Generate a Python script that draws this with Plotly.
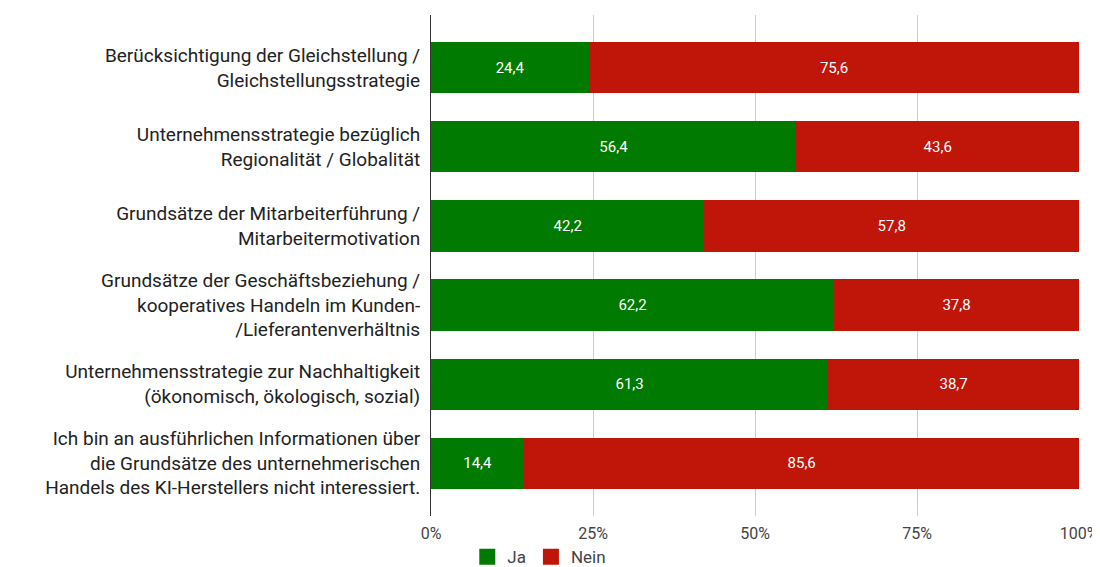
import plotly.graph_objects as go

categories = [
    "Berücksichtigung der Gleichstellung /<br>Gleichstellungsstrategie",
    "Unternehmensstrategie bezüglich<br>Regionalität / Globalität",
    "Grundsätze der Mitarbeiterführung /<br>Mitarbeitermotivation",
    "Grundsätze der Geschäftsbeziehung /<br>kooperatives Handeln im Kunden-<br>/Lieferantenverhältnis",
    "Unternehmensstrategie zur Nachhaltigkeit<br>(ökonomisch, ökologisch, sozial)",
    "Ich bin an ausführlichen Informationen über<br>die Grundsätze des unternehmerischen<br>Handels des KI-Herstellers nicht interessiert.",
]
ja = [24.4, 56.4, 42.2, 62.2, 61.3, 14.4]
nein = [75.6, 43.6, 57.8, 37.8, 38.7, 85.6]
tick_vals = [0, 25, 50, 75, 100]
tick_text = ["0%", "25%", "50%", "75%", "100%"]
series_names = ["Ja", "Nein"]
series_colors = ["#007a00", "#c0160a"]

def fmt(v):
    return f"{v:.1f}".replace(".", ",")

fig = go.Figure()
for name, vals, col in zip(series_names, [ja, nein], series_colors):
    fig.add_trace(go.Bar(
        y=categories, x=vals, name=name, orientation="h",
        marker=dict(color=col, line=dict(width=0)),
        text=[fmt(v) for v in vals], textposition="inside", insidetextanchor="middle",
        textfont=dict(color="white", size=15, family="Roboto"),
        showlegend=False, hoverinfo="skip",
    ))
# legend entries with larger square symbols
for name, col in zip(series_names, series_colors):
    fig.add_trace(go.Scatter(
        x=[None], y=[None], mode="markers", name=name,
        marker=dict(symbol="square", size=16, color=col),
        showlegend=True,
    ))

fig.update_layout(
    barmode="stack",
    bargap=0.354,
    width=1092, height=559,
    margin=dict(l=423, r=21, t=7, b=51, autoexpand=False),
    paper_bgcolor="white", plot_bgcolor="white",
    font=dict(family="Roboto", color="#222222"),
    uniformtext=dict(mode="show", minsize=15),
    legend=dict(
        orientation="h", x=0.056, xanchor="left", y=-0.082, yanchor="middle",
        font=dict(size=17, color="#444444"), itemwidth=30,
        traceorder="normal", bgcolor="rgba(0,0,0,0)",
    ),
    xaxis=dict(
        range=[0, 100], tickvals=tick_vals, ticktext=tick_text,
        showgrid=True, gridcolor="#cccccc", gridwidth=1,
        zeroline=False, showline=False, automargin=False,
        tickfont=dict(size=16, color="#444444"),
        ticks="", ticklabelstandoff=6,
    ),
    yaxis=dict(
        autorange=False, range=[5.67, -0.67], automargin=False,
        tickfont=dict(size=19, color="#222222"),
        showgrid=False, zeroline=False,
        showline=True, linecolor="#333333", linewidth=1,
        ticks="", ticklabelstandoff=6,
    ),
)

fig.write_html("out.html")
